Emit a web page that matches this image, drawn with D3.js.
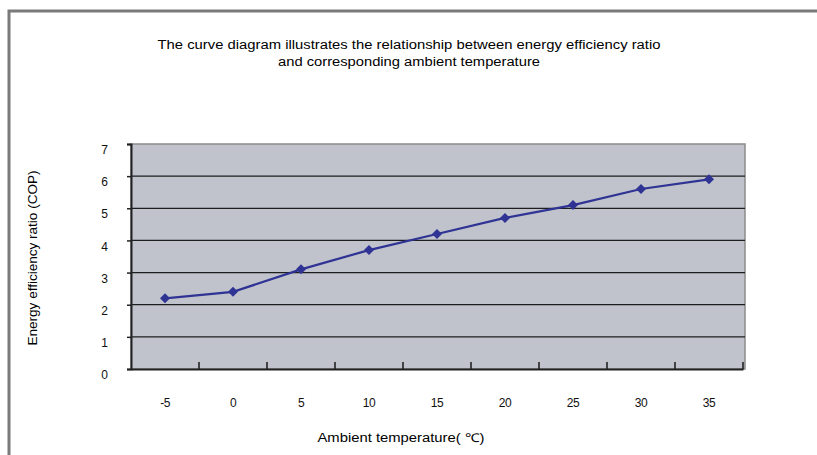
<!DOCTYPE html>
<html>
<head>
<meta charset="utf-8">
<script src="https://cdn.jsdelivr.net/npm/d3@7"></script>
<style>
body{margin:0;background:#fff;}
svg{display:block;font-family:Arial,"Liberation Sans",sans-serif;}
</style>
</head>
<body>
<svg id="chart" width="817" height="455"></svg>
<script>
const categories = ["-5","0","5","10","15","20","25","30","35"];
const copValues = [2.2, 2.4, 3.1, 3.7, 4.2, 4.7, 5.1, 5.6, 5.9];
const yTicks = [0,1,2,3,4,5,6,7];
const titleLines = ["The curve diagram illustrates the relationship between energy efficiency ratio","and corresponding ambient temperature"];
const xLabel = "Ambient temperature( \u2103)";
const yLabel = "Energy efficiency ratio (COP)";

const svg = d3.select("#chart");
const L = 131, R = 743, T = 144, B = 369;
const FONT = "Arial,'Liberation Sans',sans-serif";

// outer frame
svg.append("path").attr("d","M9,455 V11 H817").attr("fill","none").attr("stroke","#7a7a7a").attr("stroke-width",3);

// title
const titleW = [503, 262];
svg.append("g").selectAll("text").data(titleLines).join("text")
  .attr("x",409).attr("y",(d,i)=>49+i*17).attr("text-anchor","middle")
  .attr("font-size",12.5).attr("fill","#000")
  .attr("textLength",(d,i)=>titleW[i]).attr("lengthAdjust","spacingAndGlyphs")
  .text(d=>d);

const x = d3.scaleBand().domain(categories).range([L,R]);
const y = d3.scaleLinear().domain([0,7]).range([B,T]);

// plot background
svg.append("rect").attr("x",L).attr("y",T).attr("width",R-L+2).attr("height",B-T)
  .attr("fill","#c0c3cc").attr("stroke","#8c8c8c").attr("stroke-width",1.5);

// gridlines
svg.append("g").selectAll("line").data(yTicks.filter(d=>d>0 && d<7)).join("line")
  .attr("x1",L).attr("x2",R+2).attr("y1",d=>y(d)).attr("y2",d=>y(d))
  .attr("stroke","#1e1e1e").attr("stroke-width",1.3);

// y axis
const yAxis = svg.append("g").attr("transform",`translate(${L},0)`)
  .call(d3.axisLeft(y).tickValues(yTicks).tickSize(4).tickPadding(19).tickFormat(d3.format("d")));
yAxis.select(".domain").attr("stroke","#222").attr("stroke-width",2);
yAxis.selectAll(".tick line").attr("stroke","#222").attr("stroke-width",1.5);
yAxis.selectAll(".tick text").attr("font-size",12).attr("fill","#111").attr("font-family",FONT).attr("dy","0.8em");

// x axis
const xAxis = svg.append("g").attr("transform",`translate(0,${B})`)
  .call(d3.axisBottom(x).tickSize(0).tickPadding(29));
xAxis.select(".domain").attr("stroke","#222").attr("stroke-width",2);
xAxis.selectAll(".tick text").attr("font-size",12).attr("fill","#111").attr("font-family",FONT).attr("letter-spacing","-0.5");
// category separator ticks
const sepPos = categories.map(c=>x(c)).concat([R]).slice(1);
svg.append("g").selectAll("line").data(sepPos).join("line")
  .attr("x1",d=>d).attr("x2",d=>d).attr("y1",B-7).attr("y2",B)
  .attr("stroke","#222").attr("stroke-width",1.6);

// line
const data = categories.map((c,i)=>({c,v:copValues[i]}));
svg.append("path").datum(data)
  .attr("d",d3.line().x(d=>x(d.c)+x.bandwidth()/2).y(d=>y(d.v)))
  .attr("fill","none").attr("stroke","#2f3394").attr("stroke-width",2.2);
svg.append("g").selectAll("path").data(data).join("path")
  .attr("transform",d=>`translate(${x(d.c)+x.bandwidth()/2},${y(d.v)}) rotate(45)`)
  .attr("d",d3.symbol().type(d3.symbolSquare).size(50))
  .attr("fill","#2f3394");

// axis titles
svg.append("text").attr("x",401).attr("y",442).attr("text-anchor","middle")
  .attr("font-size",12).attr("fill","#000")
  .attr("textLength",167).attr("lengthAdjust","spacingAndGlyphs").text(xLabel);
svg.append("text").attr("transform","translate(37,258) rotate(-90)").attr("text-anchor","middle")
  .attr("font-size",12).attr("fill","#000")
  .attr("textLength",175).attr("lengthAdjust","spacingAndGlyphs").text(yLabel);
</script>
</body>
</html>
